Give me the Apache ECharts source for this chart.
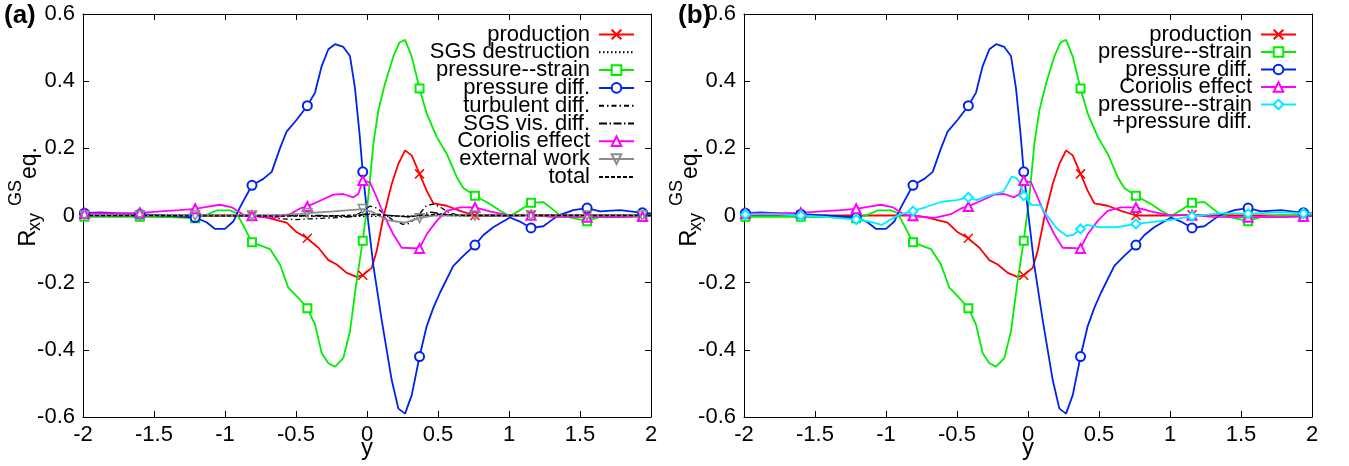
<!DOCTYPE html>
<html>
<head>
<meta charset="utf-8">
<script src="https://cdn.jsdelivr.net/npm/echarts@6/dist/echarts.min.js"></script>
<style>html,body{margin:0;padding:0;background:#fff}#c{width:1349px;height:466px}</style>
</head>
<body>
<div id="c"></div>
<script>
// ---------- axes ----------
const X_MIN = -2, X_MAX = 2, X_STEP = 0.5;
const Y_MIN = -0.6, Y_MAX = 0.6, Y_STEP = 0.2;
// y positions carrying a point marker (gnuplot pointinterval)
const markerY = [-1.99, -1.6, -1.21, -0.81, -0.42, -0.03, 0.37, 0.76, 1.155, 1.55, 1.94];

// ---------- data: [y, value] ----------
const production = [[-2.0,0.0],[-1.99,0.0],[-1.6,0.0],[-1.21,0.0],[-0.81,0.0],[-0.706,-0.006],[-0.566,-0.021],[-0.495,-0.05],[-0.42,-0.068],[-0.342,-0.096],[-0.272,-0.133],[-0.213,-0.146],[-0.143,-0.171],[-0.073,-0.183],[-0.03,-0.178],[0.033,-0.156],[0.068,-0.106],[0.115,-0.006],[0.174,0.094],[0.221,0.154],[0.268,0.194],[0.315,0.179],[0.37,0.124],[0.42,0.074],[0.467,0.036],[0.561,0.029],[0.655,0.014],[0.76,0.0],[1.0,0.0],[1.155,0.002],[1.55,0.0],[1.94,0.0],[2.0,0.0]];

const sgsDestruction = [[-2.0,0.0],[-0.6,0.0],[-0.2,-0.002],[0.0,-0.003],[0.2,-0.002],[0.6,0.0],[2.0,0.0]];

const pressureStrain = [[-2.0,-0.004],[-1.99,-0.004],[-1.8,-0.004],[-1.6,-0.004],[-1.4,-0.005],[-1.21,-0.008],[-1.13,0.002],[-1.06,0.015],[-0.965,0.015],[-0.92,0.008],[-0.871,-0.03],[-0.81,-0.08],[-0.683,-0.1],[-0.613,-0.146],[-0.554,-0.215],[-0.484,-0.245],[-0.42,-0.276],[-0.366,-0.325],[-0.319,-0.41],[-0.272,-0.44],[-0.225,-0.45],[-0.167,-0.425],[-0.12,-0.345],[-0.073,-0.195],[-0.03,-0.075],[0.009,0.054],[0.045,0.214],[0.08,0.313],[0.127,0.393],[0.185,0.473],[0.228,0.515],[0.268,0.523],[0.315,0.473],[0.37,0.378],[0.42,0.304],[0.491,0.234],[0.561,0.184],[0.632,0.114],[0.678,0.082],[0.76,0.059],[0.866,0.034],[0.937,0.014],[1.007,-0.002],[1.077,0.016],[1.155,0.038],[1.242,0.04],[1.359,0.001],[1.453,-0.008],[1.55,-0.017],[1.64,-0.004],[1.78,0.0],[1.94,0.0],[2.0,0.0]];

const pressureDiff = [[-2.0,0.007],[-1.99,0.007],[-1.88,0.009],[-1.74,0.006],[-1.6,0.004],[-1.43,0.0],[-1.32,-0.003],[-1.21,-0.006],[-1.13,-0.02],[-1.07,-0.04],[-1.0,-0.04],[-0.94,-0.017],[-0.894,0.025],[-0.81,0.09],[-0.73,0.109],[-0.671,0.13],[-0.613,0.2],[-0.566,0.25],[-0.495,0.285],[-0.42,0.327],[-0.366,0.366],[-0.319,0.445],[-0.272,0.495],[-0.225,0.51],[-0.167,0.502],[-0.12,0.475],[-0.085,0.38],[-0.054,0.25],[-0.03,0.13],[0.0,0.012],[0.045,-0.15],[0.103,-0.31],[0.174,-0.49],[0.221,-0.575],[0.268,-0.59],[0.315,-0.535],[0.37,-0.42],[0.42,-0.33],[0.467,-0.275],[0.514,-0.23],[0.608,-0.15],[0.678,-0.12],[0.76,-0.088],[0.82,-0.058],[0.889,-0.035],[1.007,-0.006],[1.077,-0.018],[1.155,-0.037],[1.242,-0.032],[1.313,-0.01],[1.359,0.002],[1.453,0.016],[1.55,0.022],[1.641,0.012],[1.782,0.016],[1.94,0.008],[2.0,0.006]];

const turbulentDiff = [[-2.0,0.0],[-1.0,0.0],[-0.8,-0.001],[-0.7,-0.004],[-0.6,-0.01],[-0.5,-0.012],[-0.4,-0.01],[-0.3,-0.008],[-0.2,-0.006],[-0.1,-0.003],[-0.03,0.012],[0.02,0.028],[0.07,0.022],[0.12,0.005],[0.18,-0.013],[0.25,-0.026],[0.3,-0.024],[0.36,0.0],[0.42,0.03],[0.47,0.034],[0.52,0.024],[0.58,0.008],[0.65,0.0],[2.0,0.0]];

const sgsVisDiff = [[-2.0,0.0],[-0.3,0.0],[-0.1,-0.004],[0.0,0.005],[0.1,0.003],[0.3,-0.005],[0.45,0.01],[0.6,0.0],[2.0,0.0]];

const coriolis = [[-2.0,0.006],[-1.99,0.006],[-1.8,0.006],[-1.6,0.008],[-1.43,0.013],[-1.32,0.016],[-1.21,0.02],[-1.13,0.026],[-1.035,0.032],[-0.95,0.024],[-0.871,0.002],[-0.81,-0.001],[-0.659,-0.007],[-0.542,0.004],[-0.472,0.021],[-0.42,0.027],[-0.331,0.044],[-0.237,0.062],[-0.167,0.064],[-0.097,0.054],[-0.061,0.064],[-0.03,0.104],[0.021,0.099],[0.068,0.054],[0.127,-0.006],[0.185,-0.056],[0.244,-0.096],[0.37,-0.098],[0.42,-0.056],[0.491,-0.016],[0.561,0.014],[0.655,0.024],[0.76,0.024],[0.866,0.012],[0.98,0.002],[1.155,0.001],[1.3,-0.004],[1.55,-0.005],[1.8,-0.005],[1.94,-0.003],[2.0,-0.002]];

const externalWork = [[-2.0,0.0],[-1.99,0.0],[-1.6,0.0],[-1.21,0.0],[-0.81,0.0],[-0.6,0.002],[-0.472,0.005],[-0.42,0.007],[-0.237,0.012],[-0.097,0.017],[-0.03,0.019],[0.045,0.009],[0.138,-0.014],[0.268,-0.021],[0.37,-0.008],[0.467,0.0],[0.76,0.0],[1.155,0.0],[1.55,0.0],[1.94,0.0],[2.0,0.0]];

const total = [[-2.0,0.0],[-0.3,-0.002],[0.0,0.003],[0.3,-0.003],[0.5,0.004],[0.7,0.0],[2.0,0.0]];

const psPlusPd = [[-2.0,0.003],[-1.99,0.003],[-1.8,0.004],[-1.6,0.0],[-1.43,-0.004],[-1.21,-0.012],[-1.113,-0.018],[-1.03,-0.028],[-0.972,-0.013],[-0.913,0.001],[-0.81,0.013],[-0.714,0.026],[-0.608,0.041],[-0.502,0.046],[-0.42,0.054],[-0.361,0.046],[-0.303,0.056],[-0.22,0.066],[-0.174,0.071],[-0.139,0.096],[-0.115,0.116],[-0.08,0.111],[-0.056,0.096],[-0.03,0.059],[0.026,0.031],[0.085,0.031],[0.132,0.001],[0.202,-0.038],[0.272,-0.061],[0.319,-0.058],[0.37,-0.04],[0.413,-0.028],[0.507,-0.035],[0.625,-0.035],[0.76,-0.025],[0.9,-0.018],[1.02,-0.012],[1.155,-0.002],[1.373,0.007],[1.55,0.005],[1.78,0.01],[1.94,0.006],[2.0,0.005]];

// ---------- styling ----------
const FONT = '"Liberation Sans", Arial, Helvetica, sans-serif';
const CROSS = 'path://M0,0L10,10M10,0L0,10';
const INVTRI = 'path://M0,0L10,0L5,8.66Z';

const panelA = [
  {key:'a_prod', label:'production', data:production, color:'#ff0000', symbol:CROSS, lw:1.8},
  {key:'a_sgsd', label:'SGS destruction', data:sgsDestruction, color:'#000000', dash:[1.5,2.5], lw:1.3},
  {key:'a_ps', label:'pressure--strain', data:pressureStrain, color:'#00ee00', symbol:'emptyRect', lw:1.8},
  {key:'a_pd', label:'pressure diff.', data:pressureDiff, color:'#0022ee', symbol:'emptyCircle', lw:1.8},
  {key:'a_td', label:'turbulent diff.', data:turbulentDiff, color:'#000000', dash:[5,3,1.5,3], lw:1.3},
  {key:'a_svd', label:'SGS vis. diff.', data:sgsVisDiff, color:'#000000', dash:[8,2.5,1.5,2.5], lw:1.3},
  {key:'a_cor', label:'Coriolis effect', data:coriolis, color:'#ff00ff', symbol:'emptyTriangle', lw:1.8},
  {key:'a_ext', label:'external work', data:externalWork, color:'#8c8c8c', symbol:INVTRI, lw:1.8},
  {key:'a_tot', label:'total', data:total, color:'#000000', dash:[4,2], lw:1.3}
];
const panelB = [
  {key:'b_prod', label:'production', data:production, color:'#ff0000', symbol:CROSS, lw:1.8},
  {key:'b_ps', label:'pressure--strain', data:pressureStrain, color:'#00ee00', symbol:'emptyRect', lw:1.8},
  {key:'b_pd', label:'pressure diff.', data:pressureDiff, color:'#0022ee', symbol:'emptyCircle', lw:1.8},
  {key:'b_cor', label:'Coriolis effect', data:coriolis, color:'#ff00ff', symbol:'emptyTriangle', lw:1.8},
  {key:'b_sum', label:'pressure--strain', data:psPlusPd, color:'#00eeff', symbol:'emptyDiamond', lw:1.8}
];

const W = 1349;
const frames = [
  {left:83, right:651},
  {left:744, right:1312}
];
const TOP = 14, BOTTOM = 417;

function isMarker(y){ return markerY.some(m => Math.abs(m - y) < 1e-9); }

function buildSeries(def, gi){
  const hasSym = !!def.symbol;
  const custom = def.symbol === CROSS || def.symbol === INVTRI;
  return {
    name: def.key,
    type: 'line',
    xAxisIndex: gi*2, yAxisIndex: gi*2,
    data: def.data.map(p => (hasSym && isMarker(p[0])) ? {value:p} : {value:p, symbol:'none'}),
    symbol: hasSym ? def.symbol : 'none',
    symbolSize: def.symbol === 'emptyRect' ? 8 : 9,
    showSymbol: true, showAllSymbol: true,
    clip: false, animation: false, silent: true,
    lineStyle: {color: def.color, width: def.lw, type: def.dash || 'solid'},
    itemStyle: custom ? {color:'rgba(0,0,0,0)', borderColor:def.color, borderWidth:1.5}
                      : {color:def.color, borderWidth:1.5},
    emphasis: {disabled:true}
  };
}

const labels = {};
[...panelA, ...panelB].forEach(d => labels[d.key] = d.label);

function buildLegends(defs, iconRight, firstCenter, step){
  return defs.map((d, i) => {
    const lg = {
      data: [d.key],
      orient: 'horizontal',
      align: 'right',
      right: W - iconRight,
      top: firstCenter + i*step - 6,
      padding: 0,
      itemWidth: 35, itemHeight: 12,
      selectedMode: false,
      formatter: n => labels[n],
      textStyle: {fontSize:22, fontFamily:FONT, color:'#000', lineHeight:12, padding:[0,4,0,0]}
    };
    if (!d.symbol) {
      lg.itemStyle = {color:'rgba(0,0,0,0)', borderColor:'rgba(0,0,0,0)', borderWidth:0};
    }
    return lg;
  });
}

const xAxes = [], yAxes = [], grids = [];
frames.forEach((f, g) => {
  grids.push({left:f.left, right:W - f.right, top:TOP, bottom:466 - BOTTOM,
              outerBoundsMode:'none', containLabel:false});
  const common = {
    gridIndex:g, type:'value', splitLine:{show:false},
    axisLine:{onZero:false, lineStyle:{color:'#000', width:1}},
    axisTick:{inside:true, length:6, lineStyle:{color:'#000', width:1}}
  };
  xAxes.push(Object.assign({}, common, {
    position:'bottom', min:X_MIN, max:X_MAX, interval:X_STEP,
    axisLabel:{fontSize:22, fontFamily:FONT, color:'#000', margin:7},
    name:'y', nameLocation:'middle', nameGap:19, nameMoveOverlap:false,
    nameTextStyle:{fontSize:24, fontFamily:FONT, color:'#000', verticalAlign:'top'}
  }));
  xAxes.push(Object.assign({}, common, {
    position:'top', min:X_MIN, max:X_MAX, interval:X_STEP, axisLabel:{show:false}
  }));
  yAxes.push(Object.assign({}, common, {
    position:'left', min:Y_MIN, max:Y_MAX, interval:Y_STEP,
    axisLabel:{fontSize:22, fontFamily:FONT, color:'#000', margin:8,
      formatter: v => String(Math.round(v*10)/10)}
  }));
  yAxes.push(Object.assign({}, common, {
    position:'right', min:Y_MIN, max:Y_MAX, interval:Y_STEP, axisLabel:{show:false}
  }));
});

function yTitle(dx){
  const s = (t, size) => ({text:t, fontSize:size, fontFamily:FONT, fill:'#000', align:'center', verticalAlign:'middle'});
  return [
    {type:'text', x:28.5+dx, y:238, rotation:Math.PI/2, style:s('R', 24), silent:true},
    {type:'text', x:35.5+dx, y:222, rotation:Math.PI/2, style:s('xy', 18), silent:true},
    {type:'text', x:16.5+dx, y:193, rotation:Math.PI/2, style:s('GS', 18), silent:true},
    {type:'text', x:30+dx, y:163, rotation:Math.PI/2, style:s('eq.', 23), silent:true}
  ];
}

const option = {
  backgroundColor:'#fff',
  animation:false,
  grid: grids,
  xAxis: xAxes,
  yAxis: yAxes,
  legend: [
    ...buildLegends(panelA, 635, 29.5, 17.8),
    ...buildLegends(panelB, 1297, 29.5, 17.5)
  ],
  graphic: [
    {type:'text', left:4, top:3, style:{text:'(a)', fontSize:26, fontWeight:'bold', fontFamily:FONT, fill:'#000'}},
    {type:'text', left:678, top:3, style:{text:'(b)', fontSize:26, fontWeight:'bold', fontFamily:FONT, fill:'#000'}},
    {type:'text', x:1252, y:122, style:{text:'+pressure diff.', fontSize:22, fontFamily:FONT, fill:'#000', align:'right', verticalAlign:'middle'}},
    ...yTitle(0), ...yTitle(661)
  ],
  series: [
    ...panelA.map(d => buildSeries(d, 0)),
    ...panelB.map(d => buildSeries(d, 1))
  ]
};

const chart = echarts.init(document.getElementById('c'), null, {renderer:'canvas'});
chart.setOption(option);
</script>
</body>
</html>
